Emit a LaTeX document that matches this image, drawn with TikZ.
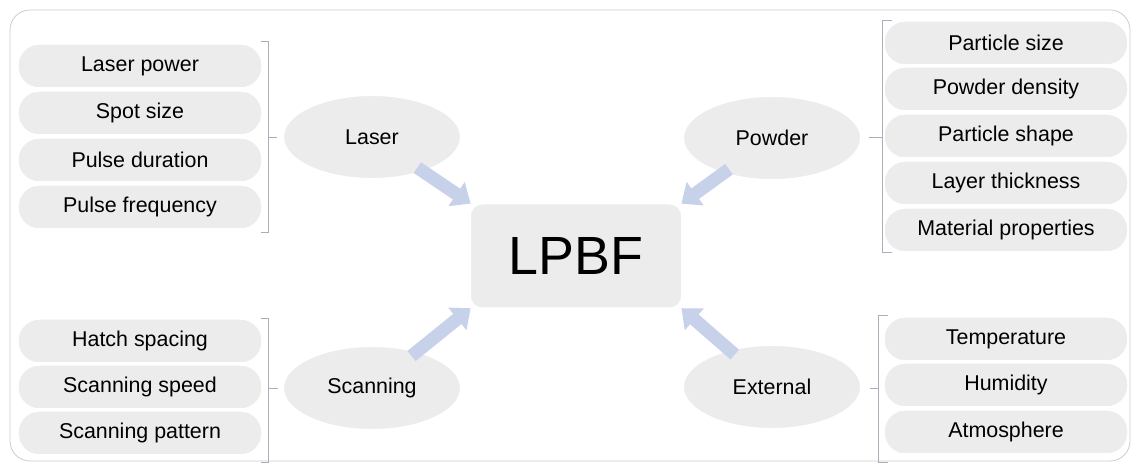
\documentclass[tikz,border=0pt]{standalone}
\usepackage{fontspec}
\setmainfont{Liberation Sans}
\usetikzlibrary{arrows.meta, shapes.geometric}

\definecolor{pillgray}{RGB}{236,236,236}
\definecolor{framegray}{RGB}{204,204,208}
\definecolor{bracketgray}{RGB}{170,176,186}
\definecolor{arrowblue}{RGB}{200,209,234}

\begin{document}
\begin{tikzpicture}[x = 1bp, y = -1bp,
  every node/.style = {font = \fontsize{21.5}{26}\selectfont, inner sep = 0pt},
  item/.style = {fill = pillgray, draw = white, line width = 1.5bp, rounded corners = 21bp, minimum width = 244bp, minimum height = 44bp},
  group/.style = {ellipse, fill = pillgray, draw = white, line width = 2bp, minimum width = 178bp, minimum height = 84bp},
  bigarrow/.style = {draw = arrowblue, line width = 13bp, -{Triangle[width = 28bp, length = 17bp]}, shorten <= -8bp, shorten >= -2bp},
  bracket/.style = {draw = bracketgray, line width = 0.8bp}]

  \useasboundingbox (0, 0) rectangle (1136, 466);
  \draw[framegray, line width = 0.8bp, rounded corners = 20bp] (10, 10) rectangle (1130, 461);

  % centre
  \node[fill = pillgray, draw = white, line width = 2bp, rounded corners = 12bp, minimum width = 212bp, minimum height = 105bp, font = \fontsize{54}{60}\selectfont] (lpbf) at (576, 256) {LPBF};

  % groups
  \node[group] (laser) at (372, 137) {Laser};
  \node[group] (powder) at (772, 138) {Powder};
  \node[group] (scanning) at (372, 388) {Scanning};
  \node[group] (external) at (772, 387) {External};

  % laser parameters
  \node[item] (power) at (140, 66) {Laser power};
  \node[item] (spot) at (140, 113) {Spot size};
  \node[item] (duration) at (140, 160) {Pulse duration};
  \node[item] (frequency) at (140, 207) {Pulse frequency};

  % powder parameters
  \node[item] (psize) at (1006, 43) {Particle size};
  \node[item] (density) at (1006, 89) {Powder density};
  \node[item] (shape) at (1006, 136) {Particle shape};
  \node[item] (layer) at (1006, 183) {Layer thickness};
  \node[item] (material) at (1006, 230) {Material properties};

  % scanning parameters
  \node[item] (hatch) at (140, 341) {Hatch spacing};
  \node[item] (speed) at (140, 387) {Scanning speed};
  \node[item] (pattern) at (140, 433) {Scanning pattern};

  % external parameters
  \node[item] (temperature) at (1006, 339) {Temperature};
  \node[item] (humidity) at (1006, 385) {Humidity};
  \node[item] (atmosphere) at (1006, 432) {Atmosphere};

  % brackets
  \draw[bracket] (261, 41) -- (268, 41) -- (268, 232) -- (261, 232) (268, 137) -- (277, 137);
  \draw[bracket] (892, 20) -- (882, 20) -- (882, 252) -- (892, 252) (882, 137) -- (869, 137);
  \draw[bracket] (261, 318) -- (268, 318) -- (268, 462) -- (261, 462) (268, 388) -- (278, 388);
  \draw[bracket] (888, 315) -- (878, 315) -- (878, 462) -- (888, 462) (878, 388) -- (870, 388);

  % arrows
  \draw[bigarrow] (laser) -- (lpbf.north west);
  \draw[bigarrow] (powder) -- (lpbf.north east);
  \draw[bigarrow] (scanning) -- (lpbf.south west);
  \draw[bigarrow] (external) -- (lpbf.south east);

\end{tikzpicture}
\end{document}
